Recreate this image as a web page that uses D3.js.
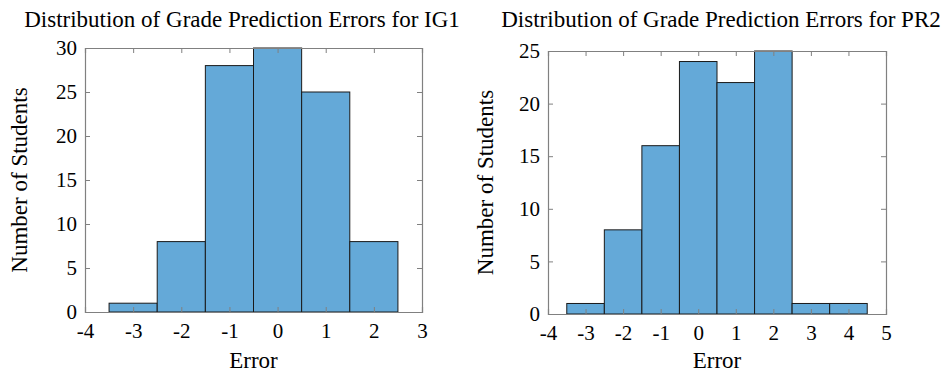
<!DOCTYPE html>
<html><head><meta charset="utf-8">
<script src="https://cdn.jsdelivr.net/npm/d3@7"></script>
<style>body{margin:0;background:#fff}svg{display:block}text{font-family:"Liberation Serif","Times New Roman",serif;fill:#000}</style>
</head><body>
<svg id="c" width="944" height="377"></svg>
<script>
// IG1 histogram
const ig1Edges = [-3.5, -2.5, -1.5, -0.5, 0.5, 1.5, 2.5];
const ig1Counts = [1, 8, 28, 30, 25, 8];
const ig1XTicks = [-4, -3, -2, -1, 0, 1, 2, 3];
const ig1YTicks = [0, 5, 10, 15, 20, 25, 30];
// PR2 histogram
const pr2Edges = [-3.5, -2.5, -1.5, -0.5, 0.5, 1.5, 2.5, 3.5, 4.5];
const pr2Counts = [1, 8, 16, 24, 22, 25, 1, 1];
const pr2XTicks = [-4, -3, -2, -1, 0, 1, 2, 3, 4, 5];
const pr2YTicks = [0, 5, 10, 15, 20, 25];
const titles = ["Distribution of Grade Prediction Errors for IG1", "Distribution of Grade Prediction Errors for PR2"];

const svg = d3.select("#c");
const axisColor = "#808080";
const font = '"Liberation Serif","Times New Roman",serif';

function panel(cfg) {
  const {x0, x1, y0, y1, edges, counts, xDom, yDom, xTicks, yTicks, title, titleX, ylabX} = cfg;
  const x = d3.scaleLinear().domain(xDom).range([x0, x1]);
  const y = d3.scaleLinear().domain(yDom).range([y1, y0]);
  const g = svg.append("g");
  const bins = counts.map((c, i) => ({a: edges[i], b: edges[i + 1], c}));
  g.selectAll("rect.bar").data(bins).join("rect").attr("class", "bar")
    .attr("x", d => x(d.a)).attr("width", d => x(d.b) - x(d.a))
    .attr("y", d => y(d.c)).attr("height", d => y(0) - y(d.c))
    .attr("fill", "#64a9d8").attr("stroke", "#1a1a1a").attr("stroke-width", 1);
  const tl = 5;
  const fmt = d => String(d);
  const bx = g.append("g").attr("transform", `translate(0,${y1})`)
    .call(d3.axisBottom(x).tickValues(xTicks).tickSize(-tl).tickPadding(11).tickFormat(fmt));
  const tx = g.append("g").attr("transform", `translate(0,${y0})`)
    .call(d3.axisTop(x).tickValues(xTicks).tickSize(-tl).tickFormat(""));
  const ly = g.append("g").attr("transform", `translate(${x0},0)`)
    .call(d3.axisLeft(y).tickValues(yTicks).tickSize(-tl).tickPadding(8).tickFormat(fmt));
  const ry = g.append("g").attr("transform", `translate(${x1},0)`)
    .call(d3.axisRight(y).tickValues(yTicks).tickSize(-tl).tickFormat(""));
  [bx, tx, ly, ry].forEach(a => {
    a.attr("font-family", font).attr("font-size", 21);
    a.selectAll("path.domain").attr("stroke", axisColor).attr("stroke-width", 1.2);
    a.selectAll(".tick line").attr("stroke", axisColor);
    a.selectAll("text").attr("font-family", font).style("font-family", font).attr("font-size", 21).attr("fill", "#000");
  });
  svg.append("text").attr("x", titleX).attr("y", 27).attr("text-anchor", "middle")
    .attr("font-family", font).attr("font-size", 23).text(title);
  svg.append("text").attr("x", (x0 + x1) / 2).attr("y", 368).attr("text-anchor", "middle")
    .attr("font-family", font).attr("font-size", 23).text("Error");
  svg.append("text").attr("transform", `translate(${ylabX},${(y0 + y1) / 2}) rotate(-90)`)
    .attr("text-anchor", "middle").attr("font-family", font).attr("font-size", 23).text("Number of Students");
}

panel({x0: 85, x1: 422, y0: 48, y1: 312, edges: ig1Edges, counts: ig1Counts, xDom: [-4, 3], yDom: [0, 30],
  xTicks: ig1XTicks, yTicks: ig1YTicks, title: titles[0], titleX: 242, ylabX: 27});
panel({x0: 548, x1: 886, y0: 51, y1: 314, edges: pr2Edges, counts: pr2Counts, xDom: [-4, 5], yDom: [0, 25],
  xTicks: pr2XTicks, yTicks: pr2YTicks, title: titles[1], titleX: 721, ylabX: 493});
</script>
</body></html>
